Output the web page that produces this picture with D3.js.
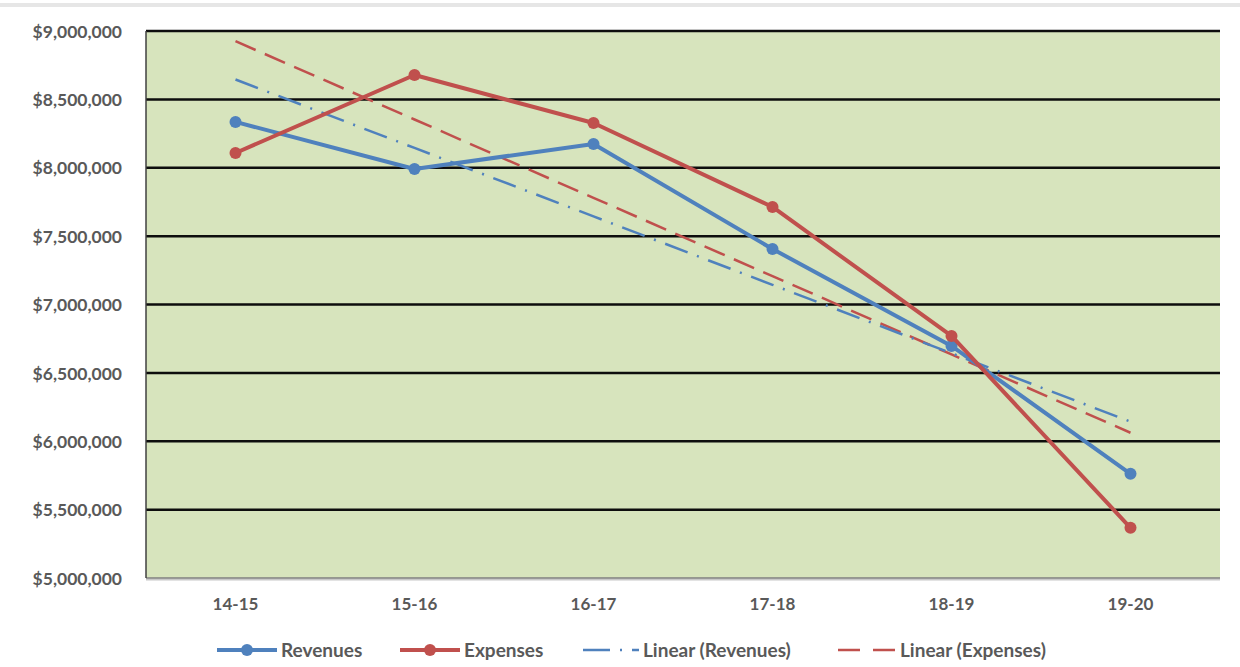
<!DOCTYPE html>
<html>
<head>
<meta charset="utf-8">
<script src="https://cdn.jsdelivr.net/npm/d3@7"></script>
<style>
html,body{margin:0;padding:0;background:#fff;}
svg{display:block;}
text{font-family:Lato,"Open Sans",sans-serif;font-weight:bold;fill:#595959;}
</style>
</head>
<body>
<svg id="chart" width="1240" height="667"></svg>
<script>
const categories = ["14-15","15-16","16-17","17-18","18-19","19-20"];
const revenues = [8335000, 7991000, 8174000, 7406000, 6697000, 5762000];
const expenses = [8108000, 8678000, 8327000, 7713000, 6770000, 5367000];
const yTicks = [5000000,5500000,6000000,6500000,7000000,7500000,8000000,8500000,9000000];
const legendLabels = ["Revenues","Expenses","Linear (Revenues)","Linear (Expenses)"];

const BLUE = "#4f81bd", RED = "#c0504d";
const svg = d3.select("#chart");
const m = {left:146, right:1220, top:31, bottom:578};

const x = d3.scaleBand().domain(categories).range([m.left, m.right]).paddingInner(0).paddingOuter(0);
const xc = c => x(c) + x.bandwidth()/2;
const y = d3.scaleLinear().domain([5000000, 9000000]).range([m.bottom, m.top]);

// top grey band
svg.append("rect").attr("x",0).attr("y",3).attr("width",1240).attr("height",4).attr("fill","#e6e6e6");

// plot area
svg.append("rect").attr("x",m.left).attr("y",m.top).attr("width",m.right-m.left).attr("height",m.bottom-m.top).attr("fill","#d7e4bd");

// gridlines
svg.append("g").selectAll("line").data(yTicks.filter(d=>d>5000000)).join("line")
  .attr("x1",m.left).attr("x2",m.right)
  .attr("y1",d=>y(d)).attr("y2",d=>y(d))
  .attr("stroke","#0d0d0d").attr("stroke-width",2.5);

// axis lines
svg.append("line").attr("x1",m.left).attr("x2",m.right).attr("y1",m.bottom+1.5).attr("y2",m.bottom+1.5).attr("stroke","#c8c8c8").attr("stroke-width",2);
svg.append("line").attr("x1",m.left).attr("x2",m.right).attr("y1",m.bottom).attr("y2",m.bottom).attr("stroke","#7f7f7f").attr("stroke-width",1.5);
svg.append("line").attr("x1",m.left).attr("x2",m.left).attr("y1",m.top).attr("y2",m.bottom).attr("stroke","#404040").attr("stroke-width",1.5);

// y axis labels
const fmt = d => "$" + d3.format(",")(d);
const yAxis = d3.axisLeft(y).tickValues(yTicks).tickFormat(fmt).tickSize(0).tickPadding(24);
const ya = svg.append("g").attr("transform",`translate(${m.left},0)`).call(yAxis);
ya.select(".domain").remove();
ya.selectAll("text").attr("font-size",17.5).attr("font-family","Lato").attr("font-weight","bold").attr("fill","#595959").attr("dy","0.35em");

// x axis labels
const xAxis = d3.axisBottom(x).tickSize(0).tickPadding(20);
const xa = svg.append("g").attr("transform",`translate(0,${m.bottom})`).call(xAxis);
xa.select(".domain").remove();
xa.selectAll("text").attr("font-size",17).attr("font-family","Lato").attr("font-weight","bold").attr("fill","#595959");

// trend lines (linear regression)
function regress(vals){
  const n = vals.length, xs = d3.range(n);
  const mx = d3.mean(xs), my = d3.mean(vals);
  const b = d3.sum(xs.map((xi,i)=>(xi-mx)*(vals[i]-my))) / d3.sum(xs.map(xi=>(xi-mx)**2));
  const a = my - b*mx;
  return xs.map(xi => a + b*xi);
}
const revTrend = regress(revenues), expTrend = regress(expenses);
const line = d3.line().x((d,i)=>xc(categories[i])).y(d=>y(d));

svg.append("path").datum(expTrend).attr("d",line).attr("fill","none")
  .attr("stroke",RED).attr("stroke-width",2.5).attr("stroke-dasharray","22,10");
svg.append("path").datum(revTrend).attr("d",line).attr("fill","none")
  .attr("stroke",BLUE).attr("stroke-width",2.5).attr("stroke-dasharray","24,10,2,10");

// series
[[revenues,BLUE],[expenses,RED]].forEach(([vals,col])=>{
  svg.append("path").datum(vals).attr("d",line).attr("fill","none")
    .attr("stroke",col).attr("stroke-width",4).attr("stroke-linejoin","round");
  svg.append("g").selectAll("circle").data(vals).join("circle")
    .attr("cx",(d,i)=>xc(categories[i])).attr("cy",d=>y(d)).attr("r",6).attr("fill",col);
});

// legend
const ly = 650;
const lg = svg.append("g");
const legendItems = [
  {x1:217,x2:277,col:BLUE,dash:null,marker:true,label:legendLabels[0]},
  {x1:400,x2:460,col:RED,dash:null,marker:true,label:legendLabels[1]},
  {x1:583,x2:639,col:BLUE,dash:"27,10,2,10",marker:false,label:legendLabels[2]},
  {x1:838,x2:896,col:RED,dash:"22,13",marker:false,label:legendLabels[3]}
];
legendItems.forEach(it=>{
  lg.append("line").attr("x1",it.x1).attr("x2",it.x2).attr("y1",ly).attr("y2",ly)
    .attr("stroke",it.col).attr("stroke-width",it.marker?4:2.5)
    .attr("stroke-dasharray",it.dash);
  if(it.marker) lg.append("circle").attr("cx",(it.x1+it.x2)/2).attr("cy",ly).attr("r",6).attr("fill",it.col);
  lg.append("text").attr("x",it.x2+4).attr("y",ly).attr("dy","0.35em").attr("font-size",19).text(it.label);
});
</script>
</body>
</html>
